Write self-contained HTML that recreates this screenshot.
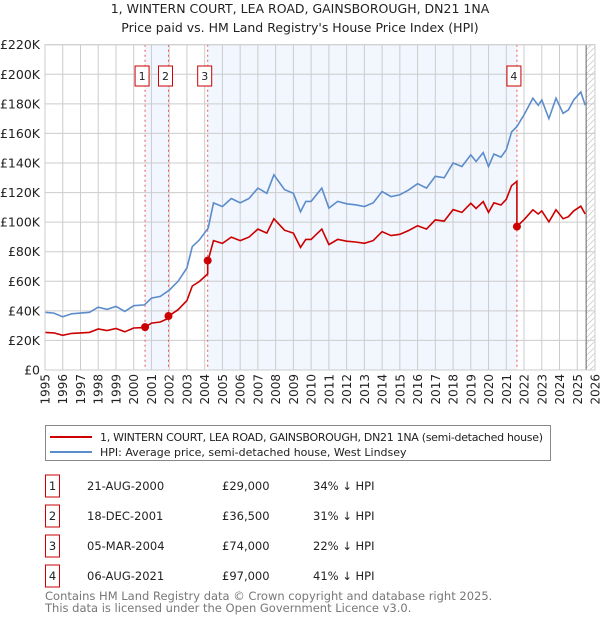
<!DOCTYPE html>
<html><head><meta charset="utf-8">
<style>
body{margin:0;background:#fff;font-family:"Liberation Sans","DejaVu Sans",sans-serif;}
#wrap{position:relative;width:600px;height:620px;overflow:hidden;}
svg text{font-family:"DejaVu Sans","Liberation Sans",sans-serif;}
</style></head>
<body>
<div id="wrap">
<svg id="chart" width="600" height="620">
<defs>
<pattern id="hatch" width="6" height="6" patternUnits="userSpaceOnUse">
<path d="M0,6 L6,0" stroke="#ccc" stroke-width="0.8"/>
</pattern>
</defs>
<text x="300" y="13" text-anchor="middle" font-size="12.5" fill="#222">1, WINTERN COURT, LEA ROAD, GAINSBOROUGH, DN21 1NA</text>
<text x="300" y="32" text-anchor="middle" font-size="12.5" fill="#222">Price paid vs. HM Land Registry's House Price Index (HPI)</text>
<g id="plot"></g>
<g>
<rect x="45.5" y="425.5" width="505" height="35" fill="#fff" stroke="#888"/>
<line x1="50" y1="437" x2="92" y2="437" stroke="#cc0000" stroke-width="2"/>
<text x="100" y="441" font-size="11" fill="#222" textLength="443">1, WINTERN COURT, LEA ROAD, GAINSBOROUGH, DN21 1NA (semi-detached house)</text>
<line x1="50" y1="452" x2="92" y2="452" stroke="#5b8ccc" stroke-width="2"/>
<text x="100" y="456" font-size="11" fill="#222">HPI: Average price, semi-detached house, West Lindsey</text>
</g>
<g id="table"></g>
<text x="45" y="600" font-size="11.5" fill="#777">Contains HM Land Registry data © Crown copyright and database right 2025.</text>
<text x="45" y="612" font-size="11.5" fill="#777">This data is licensed under the Open Government Licence v3.0.</text>
</svg>
</div>
<script>
const hpiYears=[1995,1995.5,1996,1996.5,1997,1997.5,1998,1998.5,1999,1999.5,2000,2000.6,2001,2001.5,2002,2002.5,2003,2003.3,2003.7,2004.2,2004.5,2005,2005.5,2006,2006.5,2007,2007.5,2007.9,2008.5,2009,2009.4,2009.7,2010,2010.6,2011,2011.5,2012,2012.5,2013,2013.5,2014,2014.5,2015,2015.5,2016,2016.5,2017,2017.5,2018,2018.5,2019,2019.3,2019.7,2020,2020.3,2020.7,2021,2021.3,2021.6,2022,2022.5,2022.8,2023,2023.4,2023.8,2024.2,2024.5,2024.8,2025.2,2025.45];
const hpiValues=[39,38.5,36,38,38.5,39,42.5,41,43,39.6,43.5,44,48.6,49.8,54,60,69,83.5,88,96,113,110.5,116,113,116,123,119.5,132,122,119.5,107,114,114,123,109.5,114,112.4,111.7,110.6,113,120.7,117.3,118.5,121.8,126,123,131,130,140,137.6,145.5,141,147,137.6,146,144,149,161,164.6,172.5,183.8,179,182.6,170,183.8,173.6,175.9,182.6,188,179];
const saleLabels=["1","2","3","4"];
const saleYears=[2000.64,2001.96,2004.17,2021.6];
const salePrices=[29,36.5,74,97];
const saleDates=["21-AUG-2000","18-DEC-2001","05-MAR-2004","06-AUG-2021"];
const salePriceText=["£29,000","£36,500","£74,000","£97,000"];
const saleDiffText=["34% ↓ HPI","31% ↓ HPI","22% ↓ HPI","41% ↓ HPI"];
const yTicks=[0,20,40,60,80,100,120,140,160,180,200,220];
const yTickLabels=["£0","£20K","£40K","£60K","£80K","£100K","£120K","£140K","£160K","£180K","£200K","£220K"];
const xTicks=[1995,1996,1997,1998,1999,2000,2001,2002,2003,2004,2005,2006,2007,2008,2009,2010,2011,2012,2013,2014,2015,2016,2017,2018,2019,2020,2021,2022,2023,2024,2025,2026];
const dataEndYear=2025.5;

const L=45,R=595,T=44.7,B=370;
const X=y=>L+(y-1995)/(2026-1995)*(R-L);
const Y=v=>B-v/220*(B-T);
const NS="http://www.w3.org/2000/svg";
const plot=document.getElementById('plot');
function mk(tag,attrs,parent){const e=document.createElementNS(NS,tag);for(const k in attrs)e.setAttribute(k,attrs[k]);(parent||plot).appendChild(e);return e;}
function hpiAt(t){for(let i=0;i<hpiYears.length-1;i++){if(t<=hpiYears[i+1]){const f=(t-hpiYears[i])/(hpiYears[i+1]-hpiYears[i]);return hpiValues[i]+f*(hpiValues[i+1]-hpiValues[i]);}}return hpiValues[hpiValues.length-1];}

for(let i=0;i<saleYears.length-1;i+=2){
  const r=mk('rect',{x:X(saleYears[i]),y:T,width:X(saleYears[i+1])-X(saleYears[i]),height:B-T,fill:'#eef3fd',opacity:0.75});
  
  
}
const hr=mk('rect',{x:X(dataEndYear),y:T,width:R-X(dataEndYear),height:B-T,fill:'url(#hatch)'});


xTicks.forEach(t=>{const l=mk('line',{x1:X(t),x2:X(t),y1:T,y2:B,stroke:'#ccc','stroke-width':1});


const tx=mk('text',{x:0,y:0,'font-size':12,fill:'#222','text-anchor':'end',transform:`translate(${X(t)+4.5},${B+4}) rotate(-90)`});tx.textContent=t;

});
yTicks.forEach((v,i)=>{const l=mk('line',{x1:L,x2:R,y1:Y(v),y2:Y(v),stroke:'#ccc','stroke-width':1});


const tx=mk('text',{x:40,y:Y(v)+4.5,'font-size':12.5,fill:'#222','text-anchor':'end'});tx.textContent=yTickLabels[i];

});
const el=mk('line',{x1:X(dataEndYear),x2:X(dataEndYear),y1:T,y2:B,stroke:'#666','stroke-width':1});


saleYears.forEach((s,i)=>{const l=mk('line',{x1:X(s),x2:X(s),y1:T,y2:B,stroke:'#ee5555','stroke-width':1,'stroke-dasharray':'2,3'});


const bx=X(s)-10;const b=mk('rect',{x:bx,y:66,width:14,height:20,fill:'#fff',stroke:'#cc0000','stroke-width':1});


const tx=mk('text',{x:bx+7,y:80,'font-size':11,'text-anchor':'middle',fill:'#222'});tx.textContent=saleLabels[i];

});
const hp=mk('path',{d:hpiYears.map((t,i)=>(i?'L':'M')+X(t).toFixed(1)+','+Y(hpiValues[i]).toFixed(1)).join(''),fill:'none',stroke:'#5b8ccc','stroke-width':1.6});


let pts=[];
hpiYears.forEach((t,i)=>{
  let k=0;for(let j=0;j<saleYears.length;j++)if(saleYears[j]<=t)k=j;
  const prev=i?hpiYears[i-1]:0;
  const j=saleYears.findIndex((s,jj)=>jj>0&&s<=t&&s>prev);
  if(j>0){const kp=j-1;pts.push([saleYears[j],hpiAt(saleYears[j])*salePrices[kp]/hpiAt(saleYears[kp])]);pts.push([saleYears[j],salePrices[j]]);}
  pts.push([t,hpiValues[i]*salePrices[k]/hpiAt(saleYears[k])]);
});
const pp=mk('path',{d:pts.map((p,i)=>(i?'L':'M')+X(p[0]).toFixed(1)+','+Y(p[1]).toFixed(1)).join(''),fill:'none',stroke:'#cc0000','stroke-width':1.6});


saleYears.forEach((s,i)=>{const c=mk('circle',{cx:X(s),cy:Y(salePrices[i]),r:4,fill:'#cc0000'});

});
const fr=mk('rect',{x:L,y:T,width:R-L,height:B-T,fill:'none',stroke:'#ccc'});


const tb=document.getElementById('table');
saleLabels.forEach((lab,i)=>{const y=486+i*30;
const b=mk('rect',{x:45.5,y:y-11,width:14,height:22,fill:'#fff',stroke:'#cc0000'},tb);


const cols=[[52.5,lab,'middle'],[87,saleDates[i],'start'],[222,salePriceText[i],'start'],[313,saleDiffText[i],'start']];
cols.forEach(c=>{const t=mk('text',{x:c[0],y:y+4,'font-size':11.5,fill:'#222','text-anchor':c[2]},tb);t.textContent=c[1];

});});
</script>
</body></html>
